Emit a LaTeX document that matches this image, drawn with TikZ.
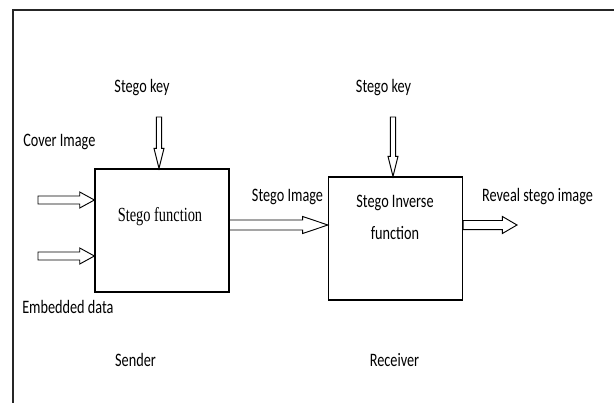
\documentclass[tikz,border=0pt]{standalone}
\usepackage{fontspec}
\newfontfamily\lblfont{Carlito}[FakeStretch=0.75]
\newfontfamily\fnfont{Liberation Serif}[FakeStretch=0.72]
\usetikzlibrary{calc}

\tikzset{
lbl/.style={font={\lblfont\fontsize{14.25}{24}\selectfont}, inner sep=0pt},
fnlbl/.style={font={\fnfont\fontsize{15}{18}\selectfont}, inner sep=0pt},
block/.style={draw, line width=.9pt, minimum width=100.5pt, minimum height=92.25pt},
arr/.style={draw, line width=.7pt, line join=miter},
hollow/.style n args={3}{to path={
($(\tikztostart)!#1!90:(\tikztotarget)$) --
($(\tikztotarget)!#3!(\tikztostart)!#1!90:(\tikztotarget)$) --
($(\tikztotarget)!#3!(\tikztostart)!#2!90:(\tikztotarget)$) --
(\tikztotarget) --
($(\tikztotarget)!#3!(\tikztostart)!#2!-90:(\tikztotarget)$) --
($(\tikztotarget)!#3!(\tikztostart)!#1!-90:(\tikztotarget)$) --
($(\tikztostart)!#1!-90:(\tikztotarget)$) -- cycle}}
}

\begin{document}
\begin{tikzpicture}[x=.75pt,y=-.75pt]
\useasboundingbox (0,0) rectangle (614,403);
\draw [gray!30!black, line width=1.5pt] (13,403) -- (13,10) -- (614,10);

% the two blocks
\node [block] (send) at (162,230.5) {};
\node [block] (recv) at (395.5,238.5) {};
\node [fnlbl] (sendtxt) at (160,217) {Stego function};
\node [lbl, align=center] (recvtxt) at (395,217) {Stego Inverse\\function};

% labels
\node [lbl] (key1txt) at (142,88) {Stego key};
\node [lbl] (key2txt) at (383.5,88) {Stego key};
\node [lbl, anchor=west] (covtxt) at (23,142) {Cover Image};
\node [lbl, anchor=west] (embtxt) at (22,307) {Embedded data};
\node [lbl] (simgtxt) at (287.5,197) {Stego Image};
\node [lbl] (revtxt) at (537.5,197) {Reveal stego image};
\node [lbl] (sendlbl) at (135.5,360) {Sender};
\node [lbl] (recvlbl) at (394.5,360) {Receiver};

% free ends
\coordinate (key1) at (159,117);
\coordinate (key2) at (393,117);
\coordinate (cov) at (38,200);
\coordinate (emb) at (38,256);
\coordinate (simg) at (229,225);
\coordinate (rev) at (517,225);

\draw [arr] (key1) to [hollow={2pt}{3.75pt}{15pt}] (key1 |- send.north);
\draw [arr] (key2) to [hollow={2pt}{3.75pt}{15pt}] (key2 |- recv.north);
\draw [arr] (cov) to [hollow={3pt}{6pt}{11pt}] (cov -| send.west);
\draw [arr] (emb) to [hollow={3pt}{6pt}{11pt}] (emb -| send.west);
\draw [arr] (simg) to [hollow={3.75pt}{6.4pt}{19pt}] (simg -| recv.west);
\draw [arr] (rev -| recv.east) to [hollow={3.4pt}{6.4pt}{11pt}] (rev);
\end{tikzpicture}
\end{document}
